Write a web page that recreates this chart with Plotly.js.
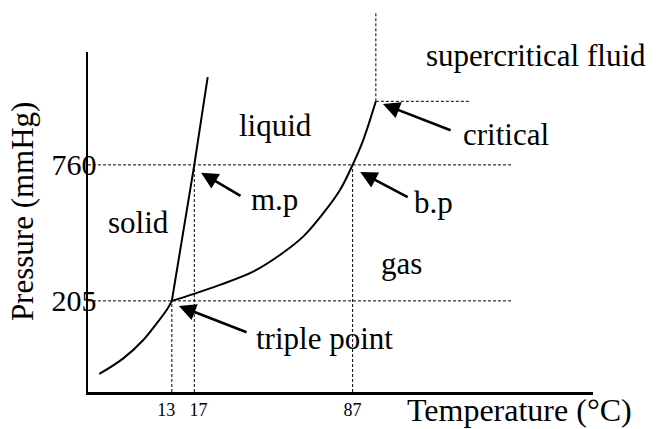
<!DOCTYPE html>
<html>
<head>
<meta charset="utf-8">
<script src="https://cdn.plot.ly/plotly-3.0.1.min.js"></script>
<style>html,body{margin:0;padding:0;background:#fff;}#chart{width:656px;height:429px;}</style>
</head>
<body>
<div id="chart"></div>
<script>
// Schematic phase diagram: coordinates are schematic (not to scale), labelled by ticks
const subT = [2.24, 6.99, 10.95, 13.6, 15.58, 16.6];      // sublimation curve
const subP = [5.3, 9.9, 15.3, 20.2, 24.1, 26.8];
const meltT = [16.6, 21.05, 23.7];                        // melting curve
const meltP = [26.8, 66.8, 92.6];
const vapT = [16.6, 20.85, 26.1, 32.7, 38.0, 42.6, 46.6, 49.9, 52.4, 54.5, 57.0]; // vaporization curve
const vapP = [26.8, 28.8, 31.5, 35.4, 40.3, 45.7, 52.6, 59.4, 66.8, 74.1, 85.5];

const triplePt = [16.6, 26.8];
const meltPt = [21.05, 66.8];
const boilPt = [52.4, 66.8];
const critPt = [57.0, 85.5];

// tick labels (13 and 17 are nudged apart in the original drawing)
const xTickVals = [15.5, 21.9, 52.4];
const xTickText = ['13', '17', '87'];
const yTickVals = [26.8, 66.8];
const yTickText = ['205', '760'];

const regionLabels = ['supercritical fluid', 'liquid', 'solid', 'gas'];
const regionX = [66.5, 29.6, 3.6, 57.6];
const regionY = [99.1, 78.5, 50.0, 37.9];

const pointLabels = ['critical', 'm.p', 'b.p', 'triple point'];
const labelX = [73.8, 31.8, 64.1, 32.9];
const labelY = [75.8, 56.5, 55.6, 15.8];
const arrowHead = [[58.4, 84.7], [22.4, 64.5], [53.9, 64.7], [18.0, 25.3]];
const arrowTail = [[72.1, 76.8], [30.5, 57.4], [63.6, 57.1], [31.7, 17.4]];

const xRange = [0, 100];
const yRange = [0, 100];
const FONT = 'Liberation Serif, Times New Roman, serif';
const guideEnd = 83.8;
const critGuideEnd = 75.4;
const critTopPaper = 1.118;

const curveLine = {color: '#000', width: 2};
const traces = [
  {x: subT, y: subP, mode: 'lines', line: Object.assign({shape: 'spline'}, curveLine), hoverinfo: 'skip'},
  {x: meltT, y: meltP, mode: 'lines', line: curveLine, hoverinfo: 'skip'},
  {x: vapT, y: vapP, mode: 'lines', line: Object.assign({shape: 'spline'}, curveLine), hoverinfo: 'skip'}
];

const dot = {color: '#000', width: 1, dash: '3px,2px'};
const shapes = [
  {type: 'line', xref: 'x', yref: 'y', x0: xRange[0], x1: guideEnd, y0: meltPt[1], y1: meltPt[1], line: dot},
  {type: 'line', xref: 'x', yref: 'y', x0: xRange[0], x1: guideEnd, y0: triplePt[1], y1: triplePt[1], line: dot},
  {type: 'line', xref: 'x', yref: 'y', x0: critPt[0], x1: critGuideEnd, y0: critPt[1], y1: critPt[1], line: dot},
  {type: 'line', xref: 'x', yref: 'paper', x0: critPt[0], x1: critPt[0],
   y0: (critPt[1] - yRange[0]) / (yRange[1] - yRange[0]), y1: critTopPaper, line: dot},
  {type: 'line', xref: 'x', yref: 'y', x0: triplePt[0], x1: triplePt[0], y0: yRange[0], y1: triplePt[1], line: dot},
  {type: 'line', xref: 'x', yref: 'y', x0: meltPt[0], x1: meltPt[0], y0: yRange[0], y1: meltPt[1], line: dot},
  {type: 'line', xref: 'x', yref: 'y', x0: boilPt[0], x1: boilPt[0], y0: yRange[0], y1: boilPt[1], line: dot}
];

const annotations = [];
regionLabels.forEach((t, i) => annotations.push({
  text: t, x: regionX[i], y: regionY[i], xref: 'x', yref: 'y', xanchor: 'left', yanchor: 'middle',
  showarrow: false, font: {family: FONT, size: 31, color: '#000'}
}));
pointLabels.forEach((t, i) => {
  annotations.push({
    text: t, x: labelX[i], y: labelY[i], xref: 'x', yref: 'y', xanchor: 'left', yanchor: 'middle',
    showarrow: false, font: {family: FONT, size: 31, color: '#000'}
  });
  annotations.push({
    text: '', x: arrowHead[i][0], y: arrowHead[i][1], xref: 'x', yref: 'y',
    ax: arrowTail[i][0], ay: arrowTail[i][1], axref: 'x', ayref: 'y',
    showarrow: true, arrowhead: 2, arrowsize: 1.3, arrowwidth: 2.6, arrowcolor: '#000', standoff: 0
  });
});
annotations.push({
  text: 'Temperature (°C)', x: 62.8, y: -0.052, xref: 'x', yref: 'paper', xanchor: 'left', yanchor: 'middle',
  showarrow: false, font: {family: FONT, size: 32, color: '#000'}
});
annotations.push({
  text: 'Pressure (mmHg)', x: -0.1307, y: 53.2, xref: 'paper', yref: 'y', xanchor: 'center', yanchor: 'middle',
  textangle: -90, showarrow: false, font: {family: FONT, size: 31, color: '#000'}
});

const layout = {
  width: 656, height: 429,
  margin: {l: 88, r: 63, t: 52, b: 37},
  paper_bgcolor: '#fff', plot_bgcolor: '#fff',
  showlegend: false,
  xaxis: {range: xRange, showgrid: false, zeroline: false, showline: true, linecolor: '#000', linewidth: 2.5,
          ticks: '', tickvals: xTickVals, ticktext: xTickText, tickfont: {family: FONT, size: 18, color: '#000'}},
  yaxis: {range: yRange, showgrid: false, zeroline: false, showline: true, linecolor: '#000', linewidth: 2.5,
          ticks: '', ticklabelstandoff: -17, tickvals: yTickVals, ticktext: yTickText,
          tickfont: {family: FONT, size: 30, color: '#000'}},
  shapes: shapes,
  annotations: annotations
};

Plotly.newPlot('chart', traces, layout, {staticPlot: true, displayModeBar: false});
</script>
</body>
</html>
